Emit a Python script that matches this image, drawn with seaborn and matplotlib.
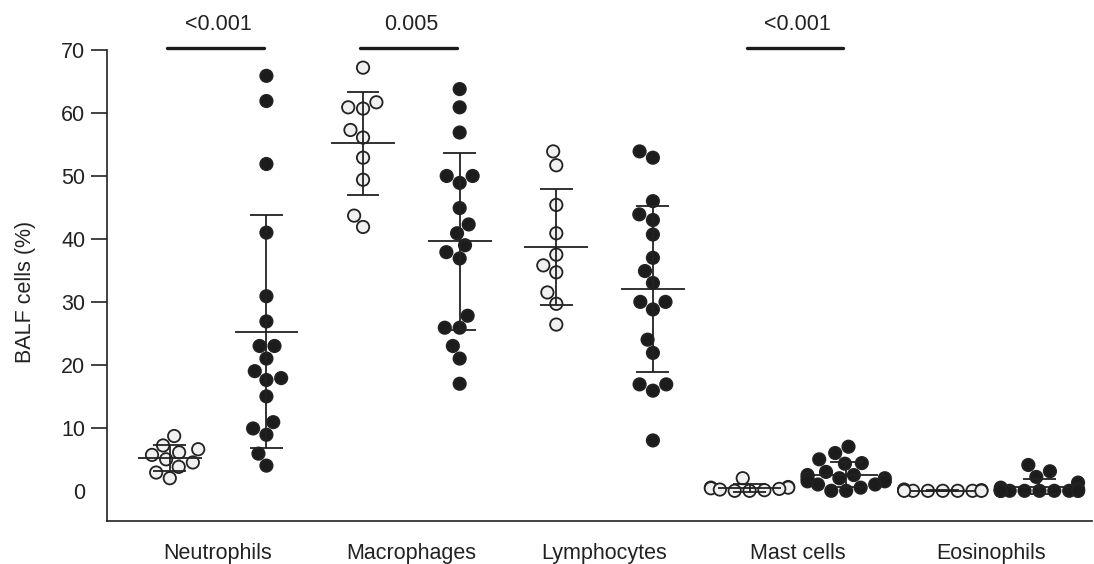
import numpy as np
import pandas as pd
import seaborn as sns
import matplotlib
matplotlib.use("Agg")
import matplotlib.pyplot as plt
import warnings
warnings.filterwarnings("ignore")

# BALF cell percentages, open circles = group 1, filled = group 2
cells = ["Neutrophils", "Macrophages", "Lymphocytes", "Mast cells", "Eosinophils"]
groups = ["Group 1", "Group 2"]

neut_open = [8.7, 7.2, 6.6, 6.1, 5.7, 5.0, 4.5, 3.8, 2.9, 2.0]
neut_filled = [65.9, 61.9, 51.9, 41.0, 30.9, 26.9, 23.0, 23.0, 21.0, 19.0,
               17.6, 17.9, 15.0, 10.9, 8.9, 9.9, 5.9, 4.0]
macro_open = [67.2, 61.7, 60.7, 60.9, 57.3, 56.1, 52.9, 49.4, 43.7, 41.9]
macro_filled = [63.8, 60.9, 56.9, 48.9, 50.0, 50.0, 44.9, 42.3, 40.9, 39.0,
                36.9, 37.9, 27.8, 25.9, 25.9, 23.0, 21.0, 17.0]
lymph_open = [53.9, 51.7, 45.4, 40.9, 37.5, 35.8, 34.7, 31.5, 29.7, 26.4]
lymph_filled = [53.9, 52.9, 46.0, 43.9, 43.0, 40.7, 37.0, 34.9, 33.0, 30.0,
                30.0, 28.8, 24.0, 21.9, 16.9, 16.9, 15.9, 8.0]
mast_open = [2.0, 0.6, 0.5, 0.5, 0.4, 0.3, 0.2, 0.1, 0.0, 0.0]
mast_filled = [7.0, 6.0, 5.0, 4.4, 4.3, 3.0, 2.5, 2.5, 2.0, 2.0,
               2.0, 1.5, 1.5, 1.0, 1.0, 0.5, 0.0, 0.0]
eos_open = [0.2, 0.1, 0.1, 0.0, 0.0, 0.0, 0.0, 0.0, 0.0, 0.0]
eos_filled = [4.1, 3.1, 2.2, 1.3, 0.5, 0.3, 0.2, 0.1, 0.0, 0.0,
              0.0, 0.0, 0.0, 0.0, 0.0, 0.0, 0.0, 0.0]

p_cells = ["Neutrophils", "Macrophages", "Mast cells"]
p_labels = ["<0.001", "0.005", "<0.001"]

series = {
    ("Neutrophils", "Group 1"): neut_open, ("Neutrophils", "Group 2"): neut_filled,
    ("Macrophages", "Group 1"): macro_open, ("Macrophages", "Group 2"): macro_filled,
    ("Lymphocytes", "Group 1"): lymph_open, ("Lymphocytes", "Group 2"): lymph_filled,
    ("Mast cells", "Group 1"): mast_open, ("Mast cells", "Group 2"): mast_filled,
    ("Eosinophils", "Group 1"): eos_open, ("Eosinophils", "Group 2"): eos_filled,
}

rows = []
for (c, g), vals in series.items():
    for v in vals:
        rows.append({"cell": c, "group": g, "slot": c + "|" + g, "value": v})
df = pd.DataFrame(rows)
order = [c + "|" + g for c in cells for g in groups]

sns.set_style("ticks")
plt.rcParams["font.family"] = ["Liberation Sans", "DejaVu Sans"]
ink = "#222222"

fig = plt.figure(figsize=(10.94, 5.64), dpi=100)
ax = fig.add_axes([0.0978, 0.0762, 0.9, 0.8351])

sns.swarmplot(data=df, x="slot", y="value", hue="group", order=order,
              palette={"Group 1": "#f0f0f0", "Group 2": "#1c1c1c"},
              size=8.9, edgecolor=ink, linewidth=1.3, legend=False, ax=ax, zorder=2)

# mean +/- SD
for i, key in enumerate(order):
    v = df.loc[df["slot"] == key, "value"].to_numpy()
    m, s = v.mean(), v.std(ddof=1)
    ax.hlines(m, i - 0.33, i + 0.33, color=ink, lw=1.3, zorder=3)
    ax.vlines(i, m - s, m + s, color=ink, lw=1.3, zorder=3)
    ax.hlines([m - s, m + s], i - 0.17, i + 0.17, color=ink, lw=1.3, zorder=3)

# p-value brackets
for c, lab in zip(p_cells, p_labels):
    a = order.index(c + "|Group 1")
    b = order.index(c + "|Group 2")
    ax.plot([a - 0.03, b - 0.03], [70.35, 70.35], color="#1a1a1a", lw=2.4,
            solid_capstyle="round", clip_on=False)
    ax.text((a + b) / 2, 74.0, lab, ha="center", va="center", fontsize=15.5, color=ink)

ax.set_xlim(-0.65, 9.54)
ax.set_ylim(-4.8, 70)
ax.set_yticks(range(0, 71, 10))
ax.set_xticks([order.index(c + "|Group 1") + 0.5 for c in cells])
ax.set_xticklabels(cells)
ax.set_xlabel("")
ax.set_ylabel("BALF cells (%)", fontsize=15.5, color=ink)
ax.yaxis.set_label_coords(-0.072, 0.487)

ax.tick_params(axis="y", length=11.5, width=1.2, colors=ink, labelsize=15.5, pad=4)
ax.tick_params(axis="x", length=0, labelsize=15.5, colors=ink, pad=16)
ax.yaxis.get_major_ticks()[0].tick1line.set_visible(False)

sns.despine(ax=ax)
for sp in ["left", "bottom"]:
    ax.spines[sp].set_linewidth(1.2)
    ax.spines[sp].set_color(ink)

fig.savefig("out.png", dpi=100)
